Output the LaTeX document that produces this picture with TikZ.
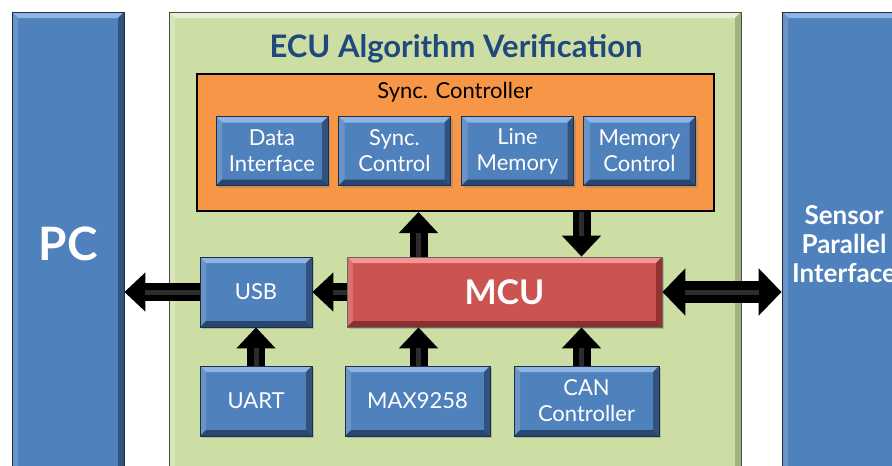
\documentclass[tikz,border=0pt]{standalone}
\usepackage{fontspec}
\setmainfont{Lato}
\usetikzlibrary{arrows.meta,shadows}
\definecolor{bfill}{HTML}{4F81BD}
\definecolor{btop}{HTML}{8EB4E3}
\definecolor{bleft}{HTML}{6A94C8}
\definecolor{bright}{HTML}{30527D}
\definecolor{bbot}{HTML}{284670}
\definecolor{bline}{HTML}{1B2F4A}
\definecolor{gfill}{HTML}{CDDEA5}
\definecolor{gtop}{HTML}{E6EFD2}
\definecolor{gleft}{HTML}{D9E6BC}
\definecolor{gright}{HTML}{A3B37F}
\definecolor{gbot}{HTML}{A3B37F}
\definecolor{ofill}{HTML}{F79646}
\definecolor{rfill}{HTML}{CB5350}
\definecolor{rtop}{HTML}{F29593}
\definecolor{rleft}{HTML}{D9716E}
\definecolor{rright}{HTML}{93322F}
\definecolor{rbot}{HTML}{8A2F2D}
\definecolor{ttl}{HTML}{1F497D}
\definecolor{hl}{HTML}{2C2C2C}
\tikzset{
  bevel/.style n args={5}{path picture={
    \path (path picture bounding box.north west) coordinate (pnw)
          (path picture bounding box.north east) coordinate (pne)
          (path picture bounding box.south west) coordinate (psw)
          (path picture bounding box.south east) coordinate (pse);
    \fill[#1] (pnw) -- (pne) -- ([xshift=-#5,yshift=-#5]pne) -- ([xshift=#5,yshift=-#5]pnw) -- cycle;
    \fill[#2] (pnw) -- ([xshift=#5,yshift=-#5]pnw) -- ([xshift=#5,yshift=#5]psw) -- (psw) -- cycle;
    \fill[#3] (pne) -- (pse) -- ([xshift=-#5,yshift=#5]pse) -- ([xshift=-#5,yshift=-#5]pne) -- cycle;
    \fill[#4] (psw) -- (pse) -- ([xshift=-#5,yshift=#5]pse) -- ([xshift=#5,yshift=#5]psw) -- cycle;
  }},
  bluebox/.style={draw=bline, line width=0.8pt, fill=bfill,
    bevel={btop}{bleft}{bright}{bbot}{6pt}, text=white,
    font=\fontsize{22}{26}\selectfont, align=center, inner sep=0pt,
    drop shadow={shadow xshift=2pt,shadow yshift=-2pt,opacity=0.4}},
  bigbox/.style={draw=bline, line width=0.8pt, fill=bfill,
    bevel={btop}{bleft}{bright}{bbot}{6pt}, text=white,
    align=center, inner sep=0pt},
  greenbox/.style={draw=black!70, line width=0.8pt, fill=gfill,
    bevel={gtop}{gleft}{gright}{gbot}{6pt}, inner sep=0pt},
  redbox/.style={draw=black!60, line width=0.8pt, fill=rfill,
    bevel={rtop}{rleft}{rright}{rbot}{6pt}, text=white, inner sep=0pt,
    font=\bfseries\fontsize{34}{40}\selectfont,
    drop shadow={shadow xshift=2pt,shadow yshift=-2pt,opacity=0.4}},
  blk/.style={draw=black, line width=18pt, -{Triangle[width=38pt,length=21pt]}},
  dbl/.style={draw=black, line width=22pt, {Triangle[width=46pt,length=23pt]}-{Triangle[width=46pt,length=23pt]}},
  hlt/.style={draw=hl, line width=5pt},
}
\begin{document}
\begin{tikzpicture}[x=1pt,y=-1pt]
\useasboundingbox (0,0) rectangle (892,466);
\fill[white] (0,0) rectangle (892,466);
% big side boxes
\node[bigbox, minimum width=112pt, minimum height=464pt,
      font=\bfseries\fontsize{46}{50}\selectfont] (pc) at (68,244) {PC};
\node[bigbox, minimum width=124pt, minimum height=464pt,
      font=\bfseries\fontsize{26}{29}\selectfont] (sen) at (844,244) {Sensor\\Parallel\\Interface};
% green container
\node[greenbox, minimum width=572pt, minimum height=466pt] (ecu) at (455,245) {};
\node[font=\bfseries\fontsize{31}{34}\selectfont, text=ttl] (title) at (456,49) {ECU Algorithm Verification};
% sync controller
\node[draw=black, line width=2pt, fill=ofill, minimum width=517pt, minimum height=137pt, inner sep=0pt] (sc) at (455.5,142.5) {};
\node[font=\fontsize{22}{26}\selectfont] (sclabel) at (455,92) {Sync. Controller};
\node[bluebox, minimum width=112pt, minimum height=69pt] (di) at (272,151) {Data\\Interface};
\node[bluebox, minimum width=112pt, minimum height=69pt] (syc) at (394.5,151) {Sync.\\Control};
\node[bluebox, minimum width=112pt, minimum height=69pt] (lm) at (517.5,151) {Line\\Memory};
\node[bluebox, minimum width=112pt, minimum height=69pt] (mc) at (639.5,151) {Memory\\Control};
% middle row
\node[redbox, minimum width=315pt, minimum height=70pt] (mcu) at (504.5,292) {MCU};
\node[bluebox, minimum width=112pt, minimum height=70pt] (usb) at (256,292) {USB};
% bottom row
\node[bluebox, minimum width=112pt, minimum height=70pt] (uart) at (256,401) {UART};
\node[bluebox, minimum width=145pt, minimum height=70pt] (max) at (417.5,401) {MAX9258};
\node[bluebox, minimum width=145pt, minimum height=70pt] (can) at (586.5,401) {CAN\\Controller};
% arrows
\draw[blk] (mcu.west) -- (usb.east);
\draw[hlt, shorten >=21pt] (mcu.west) -- (usb.east);
\draw[blk] (usb.west) -- (usb.west -| pc.east);
\draw[hlt, shorten >=21pt] (usb.west) -- (usb.west -| pc.east);
\draw[blk] (uart.north) -- (usb.south);
\draw[hlt, shorten >=21pt] (uart.north) -- (usb.south);
\draw[blk] ([xshift=1pt]max.north) -- ([xshift=1pt]max.north |- mcu.south);
\draw[hlt, shorten >=21pt] ([xshift=1pt]max.north) -- ([xshift=1pt]max.north |- mcu.south);
\draw[blk] ([xshift=-5pt]can.north) -- ([xshift=-5pt]can.north |- mcu.south);
\draw[hlt, shorten >=21pt] ([xshift=-5pt]can.north) -- ([xshift=-5pt]can.north |- mcu.south);
\draw[blk] ([xshift=1pt]max.north |- mcu.north) -- ([xshift=1pt]max.north |- sc.south);
\draw[hlt, shorten >=21pt] ([xshift=1pt]max.north |- mcu.north) -- ([xshift=1pt]max.north |- sc.south);
\draw[blk] ([xshift=-5pt]can.north |- sc.south) -- ([xshift=-5pt]can.north |- mcu.north);
\draw[hlt, shorten >=21pt] ([xshift=-5pt]can.north |- sc.south) -- ([xshift=-5pt]can.north |- mcu.north);
\draw[dbl] (mcu.east) -- (mcu.east -| sen.west);
\draw[hlt, shorten >=23pt, shorten <=23pt] (mcu.east) -- (mcu.east -| sen.west);
\end{tikzpicture}
\end{document}
